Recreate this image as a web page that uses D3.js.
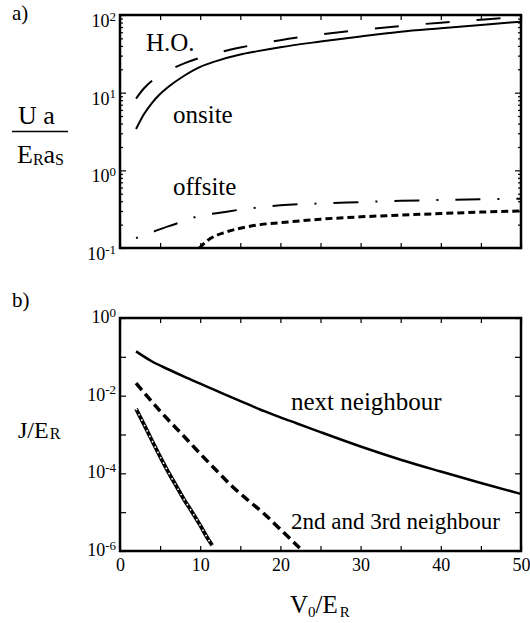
<!DOCTYPE html>
<html>
<head>
<meta charset="utf-8">
<script src="https://cdn.jsdelivr.net/npm/d3@7"></script>
<style>
  html, body { margin: 0; padding: 0; background: #fff; }
  svg { display: block; }
</style>
</head>
<body>
<svg id="chart" width="530" height="623"></svg>
<script>
// ---- panel a): interaction energies vs lattice depth ----
const hoV = [2, 3, 4, 5, 6, 8, 10, 12, 15, 20, 25, 30, 35, 40, 45, 50];
const hoU = [8.4, 11.4, 14.2, 16.8, 19.2, 23.8, 28.2, 32.3, 38.1, 47.4, 56.0, 64.2, 72.1, 79.7, 87.1, 94.3];

const onsiteV = [2, 3, 4, 5, 6, 8, 10, 12, 15, 17, 20, 25, 30, 35, 40, 45, 50];
const onsiteU = [3.4, 5.3, 7.4, 9.6, 11.8, 16.5, 21.5, 25.5, 31, 34, 38.5, 45.5, 53, 61, 67.5, 74.5, 82];

const offsiteV = [2, 4, 6, 8, 10, 12, 15, 20, 25, 30, 35, 40, 45, 50];
const offsiteU = [0.134, 0.16, 0.19, 0.222, 0.262, 0.28, 0.312, 0.355, 0.375, 0.39, 0.405, 0.415, 0.425, 0.43];

const offsite2V = [9.9, 11, 12, 13, 15, 17.5, 20, 25, 30, 35, 40, 45, 50];
const offsite2U = [0.1, 0.127, 0.145, 0.158, 0.18, 0.2, 0.212, 0.235, 0.252, 0.265, 0.278, 0.29, 0.30];

// ---- panel b): tunnelling matrix elements ----
const nnV = [2, 4, 6, 8, 10, 12, 14, 16, 18, 20, 22, 25, 30, 35, 40, 45, 50];
const nnJ = [0.138, 0.0759, 0.0479, 0.0309, 0.0204, 0.0135, 8.91e-3, 5.96e-3, 3.98e-3, 2.75e-3,
             1.95e-3, 1.15e-3, 4.9e-4, 2.24e-4, 1.11e-4, 5.62e-5, 2.95e-5];

const n2V = [2, 3, 4, 5, 6, 8, 10, 12, 14, 16, 18, 20, 22.4];
const n2J = [0.021, 0.012, 6.9e-3, 4.0e-3, 2.4e-3, 8.9e-4, 3.2e-4, 1.2e-4, 4.6e-5, 2.0e-5, 9.0e-6, 3.6e-6, 1.2e-6];

const n3V = [2, 3, 4, 5, 6, 7, 8, 9, 10, 11, 11.5];
const n3J = [4.6e-3, 1.8e-3, 6.9e-4, 2.7e-4, 1.1e-4, 4.8e-5, 2.1e-5, 1.0e-5, 4.6e-6, 2.0e-6, 1.4e-6];

// axis ticks
const xTicks = [0, 5, 10, 15, 20, 25, 30, 35, 40, 45, 50];
const xTickLabels = [0, 10, 20, 30, 40, 50];
const aDecades = [0.1, 1, 10, 100];
const bDecades = [1e-6, 1e-5, 1e-4, 1e-3, 1e-2, 1e-1, 1];
const bLabelled = [1e-6, 1e-4, 1e-2, 1];

const FONT = "Liberation Serif";

const svg = d3.select("#chart");

const L = 120, R = 521;
const A = { top: 15, bottom: 248 };
const B = { top: 318, bottom: 551 };

const x = d3.scaleLinear().domain([0, 50]).range([L, R]);
const yA = d3.scaleLog().domain([0.1, 100]).range([A.bottom, A.top]);
const yB = d3.scaleLog().domain([1e-6, 1]).range([B.bottom, B.top]);

// clip regions
const defs = svg.append("defs");
defs.append("clipPath").attr("id", "clipA").append("rect")
  .attr("x", L).attr("y", A.top).attr("width", R - L).attr("height", A.bottom - A.top);
defs.append("clipPath").attr("id", "clipB").append("rect")
  .attr("x", L).attr("y", B.top).attr("width", R - L).attr("height", B.bottom - B.top);

function lineGen(y) {
  return d3.line().x(d => x(d[0])).y(d => y(d[1])).curve(d3.curveMonotoneX);
}
const zip = (a, b) => a.map((v, i) => [v, b[i]]);

// exponent label "10^n"
function powerLabel(sel, v) {
  const e = Math.round(Math.log10(v));
  sel.text(null);
  sel.append("tspan").text("10");
  sel.append("tspan").attr("dy", "-0.5em").style("font-size", "13px").text(e);
}

function ticks(g) { g.select(".domain").remove(); }

function drawYAxes(y, decades, minor, labelled, labelShift) {
  svg.append("g").attr("transform", `translate(${L},0)`)
    .call(d3.axisLeft(y).tickValues(decades).tickSizeInner(-6).tickSizeOuter(0).tickFormat("")).call(ticks);
  svg.append("g").attr("transform", `translate(${R},0)`)
    .call(d3.axisRight(y).tickValues(decades).tickSizeInner(-6).tickSizeOuter(0).tickFormat("")).call(ticks);
  if (minor.length) {
    svg.append("g").attr("transform", `translate(${L},0)`)
      .call(d3.axisLeft(y).tickValues(minor).tickSizeInner(-3).tickSizeOuter(0).tickFormat("")).call(ticks);
    svg.append("g").attr("transform", `translate(${R},0)`)
      .call(d3.axisRight(y).tickValues(minor).tickSizeInner(-3).tickSizeOuter(0).tickFormat("")).call(ticks);
  }
  svg.append("g").selectAll("text").data(labelled).join("text")
    .attr("x", L - 4)
    .attr("y", d => y(d) + labelShift)
    .attr("text-anchor", "end")
    .style("font-family", FONT)
    .style("font-size", "18px")
    .each(function (d) { powerLabel(d3.select(this), d); });
}

function drawXTicks(panel) {
  svg.append("g").attr("transform", `translate(0,${panel.bottom})`)
    .call(d3.axisBottom(x).tickValues(xTicks).tickSizeInner(-5).tickSizeOuter(0).tickFormat("")).call(ticks);
  svg.append("g").attr("transform", `translate(0,${panel.top})`)
    .call(d3.axisTop(x).tickValues(xTicks).tickSizeInner(-5).tickSizeOuter(0).tickFormat("")).call(ticks);
}

// ---------- panel a ----------
const minorA = [];
[0.1, 1, 10].forEach(p => { for (let k = 2; k <= 9; k++) minorA.push(p * k); });
drawYAxes(yA, aDecades, minorA, aDecades, 12);
drawXTicks(A);

const gA = svg.append("g").attr("clip-path", "url(#clipA)").attr("fill", "none").attr("stroke", "#000");
gA.append("path").datum(zip(hoV, hoU)).attr("d", lineGen(yA))
  .attr("stroke-width", 2).attr("stroke-dasharray", "24,27");
gA.append("path").datum(zip(onsiteV, onsiteU)).attr("d", lineGen(yA))
  .attr("stroke-width", 2);
gA.append("path").datum(zip(offsiteV, offsiteU)).attr("d", lineGen(yA))
  .attr("stroke-width", 2).attr("stroke-dasharray", "2,17,25,17");
gA.append("path").datum(zip(offsite2V, offsite2U)).attr("d", lineGen(yA))
  .attr("stroke-width", 3).attr("stroke-dasharray", "7,4");

svg.append("rect").attr("x", L).attr("y", A.top).attr("width", R - L).attr("height", A.bottom - A.top)
  .attr("fill", "none").attr("stroke", "#000").attr("stroke-width", 2.5);

// ---------- panel b ----------
drawYAxes(yB, bDecades, [], bLabelled, 5);
drawXTicks(B);

svg.append("g").attr("transform", `translate(0,${B.bottom})`)
  .call(d3.axisBottom(x).tickValues(xTickLabels).tickSize(0).tickPadding(7).tickFormat(d3.format("d")))
  .call(ticks)
  .call(g => g.selectAll("text").attr("fill", "#000")
    .style("font-family", FONT).style("font-size", "18px"));

const gB = svg.append("g").attr("clip-path", "url(#clipB)").attr("fill", "none").attr("stroke", "#000");
gB.append("path").datum(zip(nnV, nnJ)).attr("d", lineGen(yB))
  .attr("stroke-width", 2.5);
gB.append("path").datum(zip(n2V, n2J)).attr("d", lineGen(yB))
  .attr("stroke-width", 3.5).attr("stroke-dasharray", "9,5");
gB.append("path").datum(zip(n3V, n3J)).attr("d", lineGen(yB))
  .attr("stroke-width", 3.8);
// small hollow dots along the third-neighbour curve
gB.append("path").datum(zip(n3V, n3J)).attr("d", lineGen(yB))
  .attr("stroke", "#fff").attr("stroke-width", 1.6).attr("stroke-dasharray", "1.6,4.4");

svg.append("rect").attr("x", L).attr("y", B.top).attr("width", R - L).attr("height", B.bottom - B.top)
  .attr("fill", "none").attr("stroke", "#000").attr("stroke-width", 2.5);

svg.selectAll(".tick line").attr("stroke", "#000").attr("stroke-width", 1.2);

// ---------- annotations ----------
function label(xp, yp, txt, size) {
  return svg.append("text").attr("x", xp).attr("y", yp)
    .style("font-family", FONT).style("font-size", size + "px").text(txt);
}
label(12, 20, "a)", 21);
label(12, 307, "b)", 21);
label(146, 51, "H.O.", 25);
label(173, 123, "onsite", 25);
label(173, 195, "offsite", 25);
label(291, 410, "next neighbour", 25);
label(291, 529, "2nd and 3rd neighbour", 23);

// y title of panel a: U a / (E_R a_S)
label(18, 124, "U a", 26);
svg.append("line").attr("x1", 12).attr("x2", 68).attr("y1", 131.5).attr("y2", 131.5)
  .attr("stroke", "#000").attr("stroke-width", 1.5);
const den = label(17, 163, "", 26);
den.append("tspan").text("E");
den.append("tspan").style("font-size", "16px").attr("dy", 2).text("R");
den.append("tspan").attr("dy", -2).text("a");
den.append("tspan").style("font-size", "16px").attr("dy", 2).text("S");

// y title of panel b: J/E_R
const jt = label(18, 438, "", 24);
jt.append("tspan").text("J/E");
jt.append("tspan").style("font-size", "16px").attr("dy", 1).attr("dx", 1).text("R");

// x title: V_0/E_R
const xt = label(290, 613, "", 25);
xt.append("tspan").text("V");
xt.append("tspan").style("font-size", "15px").attr("dy", 4).text("0");
xt.append("tspan").attr("dy", -4).text("/E");
xt.append("tspan").style("font-size", "15px").attr("dy", 4).attr("dx", 2).text("R");
</script>
</body>
</html>
